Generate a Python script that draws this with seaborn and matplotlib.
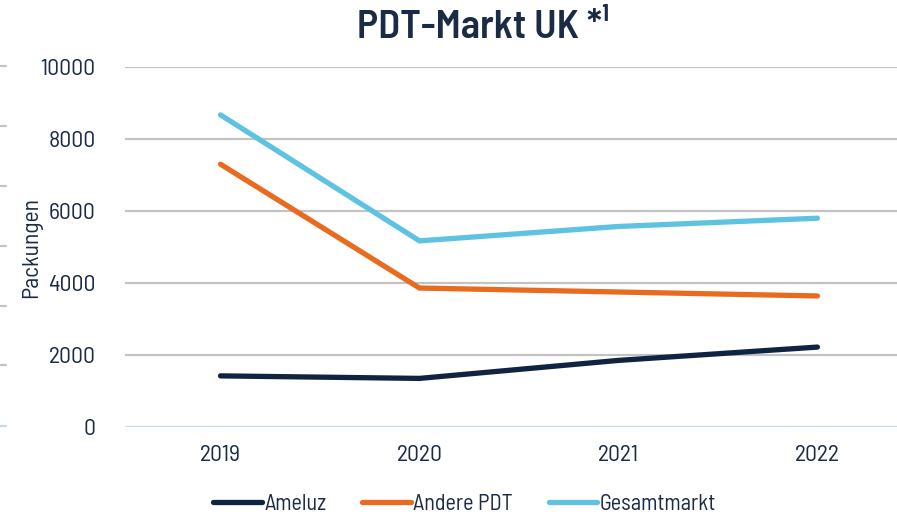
import matplotlib
matplotlib.use("Agg")
import matplotlib.pyplot as plt
import seaborn as sns
import pandas as pd
from matplotlib.lines import Line2D

years = ["2019", "2020", "2021", "2022"]
ameluz = [1420, 1350, 1850, 2220]
andere_pdt = [7300, 3860, 3750, 3640]
gesamtmarkt = [8670, 5170, 5570, 5800]
series_names = ["Ameluz", "Andere PDT", "Gesamtmarkt"]
y_ticks = [0, 2000, 4000, 6000, 8000, 10000]

title = "PDT-Markt UK *¹"
y_label = "Packungen"

navy = "#0e2440"
orange = "#e96b1f"
sky = "#5ec3e3"
text_col = "#1b2b45"

sns.set_theme(style="white")
plt.rcParams["font.family"] = ["Barlow Semi Condensed", "DejaVu Sans"]

df = pd.DataFrame({
    "idx": list(range(len(years))) * 3,
    "Wert": ameluz + andere_pdt + gesamtmarkt,
    "Serie": [series_names[0]] * 4 + [series_names[1]] * 4 + [series_names[2]] * 4,
})

fig = plt.figure(figsize=(8.97, 5.17), dpi=100)
ax = fig.add_axes([125 / 897, 1 - 427 / 517, 1 - 125 / 897, (427 - 67) / 517])

palette = {series_names[0]: navy, series_names[1]: orange, series_names[2]: sky}
sns.lineplot(data=df, x="idx", y="Wert", hue="Serie", palette=palette,
             linewidth=3.8, ax=ax, legend=False, clip_on=False,
             solid_capstyle="round", solid_joinstyle="round")

ax.set_xlim(-0.48, 3.40)
ax.set_ylim(0, 10000)
ax.set_xticks(range(len(years)))
ax.set_xticklabels(years)
ax.set_yticks(y_ticks)
ax.set_yticklabels([str(v) for v in y_ticks])
ax.tick_params(axis="both", length=0, labelsize=17, colors=text_col)
ax.tick_params(axis="y", pad=21)
ax.tick_params(axis="x", pad=13)
for s in ax.spines.values():
    s.set_visible(False)
ax.set_xlabel("")
ax.set_ylabel(y_label, fontsize=17, color=text_col)
ax.yaxis.set_label_coords(-0.107, 0.5)

for v in y_ticks:
    col = "#c5d8ef" if v == 0 else "#c3c3c3"
    ax.axhline(v, color=col, linewidth=1.6, zorder=0)

fig.text(0.538, 0.945, title, ha="center", va="center", fontsize=29,
         fontweight="semibold", color=text_col)

# small dashes at the left edge
for yp in [66, 126, 186, 246, 306, 365, 426]:
    col = "#c5d8ef" if yp == 426 else "#c3c3c3"
    fig.add_artist(Line2D([0, 6 / 897], [1 - yp / 517] * 2, color=col,
                          linewidth=1.6, transform=fig.transFigure))

handles = [Line2D([0], [0], color=c, linewidth=3.8, solid_capstyle="round")
           for c in [navy, orange, sky]]
leg = fig.legend(handles, series_names, loc="center", bbox_to_anchor=(0.518, 0.025),
                 ncol=3, frameon=False, fontsize=16, handlelength=2.2,
                 handletextpad=0.1, columnspacing=1.6)
for t in leg.get_texts():
    t.set_color(text_col)

fig.savefig("out.png", dpi=100)
